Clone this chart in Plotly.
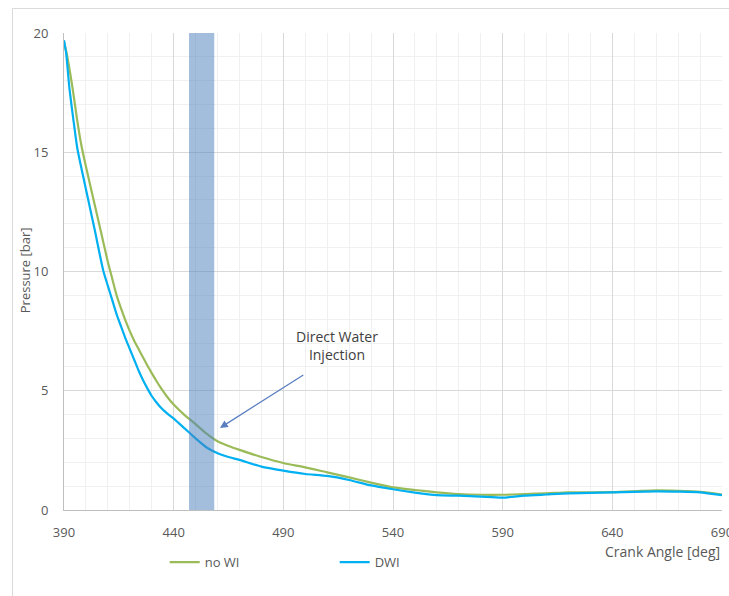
import plotly.graph_objects as go

# Cylinder pressure during expansion/exhaust, with and without direct water injection
angle_no_wi = [390, 391.2, 393.8, 396, 398, 400, 402, 404, 406, 408, 410, 412, 414, 416,
               418, 420, 422, 424, 426, 428, 430, 432, 434, 437, 440, 445, 450, 455,
               460, 465, 470, 480, 490, 500, 510, 520, 530, 540, 550, 560, 570, 580,
               590, 600, 610, 620, 640, 660, 670, 680, 690]
p_no_wi = [19.6, 19.15, 17.75, 16.35, 15.25, 14.4, 13.6, 12.8, 12.0, 11.2, 10.4, 9.7,
           9.0, 8.45, 7.95, 7.5, 7.1, 6.75, 6.4, 6.06, 5.74, 5.43, 5.14, 4.75, 4.42,
           3.98, 3.6, 3.2, 2.88, 2.68, 2.52, 2.22, 1.97, 1.79, 1.58, 1.37, 1.15,
           0.95, 0.84, 0.74, 0.67, 0.64, 0.64, 0.67, 0.7, 0.74, 0.75, 0.82, 0.8,
           0.76, 0.65]

angle_dwi = [390, 391, 392.4, 394.3, 396, 398, 400, 402, 404, 406, 408, 410, 412, 414,
             416, 418, 420, 422, 424, 426, 428, 430, 432, 434, 437, 440, 445, 450, 455,
             460, 465, 470, 480, 490, 500, 510, 520, 530, 540, 550, 560, 570, 580, 590,
             600, 610, 620, 640, 660, 670, 680, 690]
p_dwi = [19.7, 19.15, 17.75, 16.35, 15.2, 14.3, 13.45, 12.6, 11.75, 10.85, 10.0, 9.4,
         8.8, 8.2, 7.7, 7.2, 6.75, 6.3, 5.85, 5.45, 5.1, 4.78, 4.53, 4.31, 4.05, 3.83,
         3.42, 3.0, 2.62, 2.38, 2.22, 2.1, 1.82, 1.65, 1.51, 1.43, 1.26, 1.03, 0.87,
         0.73, 0.62, 0.6, 0.56, 0.52, 0.6, 0.65, 0.7, 0.74, 0.78, 0.77, 0.74, 0.62]

# Water injection window (crank angle, deg)
injection_window = [447, 458.5]

x_ticks = [390, 440, 490, 540, 590, 640, 690]
y_ticks = [0, 5, 10, 15, 20]

FONT = "Open Sans"
TXT = "#595959"

fig = go.Figure()
fig.add_trace(go.Scatter(x=angle_no_wi, y=p_no_wi, mode="lines", name="no WI",
                         line=dict(color="#9bbb59", width=2.2, shape="spline",
                                   smoothing=0.6)))
fig.add_trace(go.Scatter(x=angle_dwi, y=p_dwi, mode="lines", name="DWI",
                         line=dict(color="#00b0f0", width=2.2, shape="spline",
                                   smoothing=0.6)))

# Injection window, translucent over the curves
fig.add_vrect(x0=injection_window[0], x1=injection_window[1],
              fillcolor="rgba(79,129,189,0.52)", line_width=0, layer="above")

# Outer chart frame
fig.add_shape(type="rect", xref="paper", yref="paper",
              x0=-0.0783, x1=1.03, y0=-0.2, y1=1.0514,
              line=dict(color="#d9d9d9", width=1), fillcolor="rgba(0,0,0,0)")

fig.add_annotation(x=514.4, y=6.9, xref="x", yref="y",
                   text="Direct Water<br>Injection", showarrow=False,
                   font=dict(family=FONT, size=14, color="#404040"))
fig.add_annotation(x=461.1, y=3.44, ax=499.8, ay=5.70, xref="x", yref="y",
                   axref="x", ayref="y", text="", showarrow=True,
                   arrowhead=2, arrowsize=1.2, arrowwidth=1.3, arrowcolor="#5a7fc0")

fig.add_annotation(x=1, y=-0.086, xref="paper", yref="paper",
                   xanchor="right", yanchor="middle",
                   text="Crank Angle [deg]", showarrow=False,
                   font=dict(family=FONT, size=14, color=TXT))
fig.add_annotation(x=-0.059, y=0.503, xref="paper", yref="paper", textangle=-90,
                   xanchor="center", yanchor="middle",
                   text="Pressure [bar]", showarrow=False,
                   font=dict(family=FONT, size=13, color=TXT))

fig.update_layout(
    width=729, height=596,
    margin=dict(l=64, r=7, t=33, b=86, autoexpand=False),
    paper_bgcolor="white", plot_bgcolor="white",
    font=dict(family=FONT, size=13, color=TXT),
    showlegend=True,
    legend=dict(orientation="h", x=0.153, xanchor="left", y=-0.078, yanchor="top",
                entrywidth=125, entrywidthmode="pixels",
                font=dict(family=FONT, size=13, color=TXT)),
    xaxis=dict(range=[390, 690], tickvals=x_ticks, showgrid=True, automargin=False,
               gridcolor="#d9d9d9", gridwidth=1, zeroline=False,
               showline=True, linecolor="#bfbfbf", linewidth=1,
               ticks="", ticklabelstandoff=10, ticklabeloverflow="allow",
               minor=dict(dtick=10, showgrid=True, gridcolor="#f0f0f0", gridwidth=1)),
    yaxis=dict(range=[0, 20], tickvals=y_ticks, showgrid=True, automargin=False,
               gridcolor="#d9d9d9", gridwidth=1, zeroline=False,
               showline=True, linecolor="#bfbfbf", linewidth=1,
               ticks="", ticklabelstandoff=12,
               minor=dict(dtick=1, showgrid=True, gridcolor="#f0f0f0", gridwidth=1)),
)

fig.write_html("out.html")
